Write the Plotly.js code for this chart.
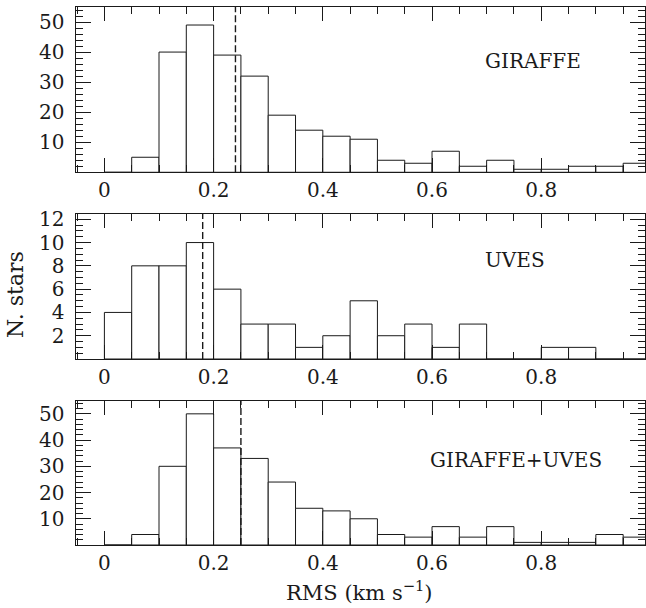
<!DOCTYPE html>
<html>
<head>
<meta charset="utf-8">
<script src="https://cdn.plot.ly/plotly-3.0.1.min.js"></script>
<style>
html,body{margin:0;padding:0;background:#fff;}
#chart{width:646px;height:608px;}
</style>
</head>
<body>
<div id="chart"></div>
<script>
// Bin left edges (RMS, km/s), bin width 0.05
var binLeft = [0, 0.05, 0.10, 0.15, 0.20, 0.25, 0.30, 0.35, 0.40, 0.45,
               0.50, 0.55, 0.60, 0.65, 0.70, 0.75, 0.80, 0.85, 0.90, 0.95];
var binWidth = 0.05;

var giraffeCounts = [0, 5, 40, 49, 39, 32, 19, 14, 12, 11,
                     4, 3, 7, 2, 4, 1, 1, 2, 2, 3];
var uvesCounts    = [4, 8, 8, 10, 6, 3, 3, 1, 2, 5,
                     2, 3, 1, 3, 0, 0, 1, 1, 0, 0];
var combinedCounts = [0, 4, 30, 50, 37, 33, 24, 14, 13, 10,
                      4, 3, 7, 3, 7, 1, 1, 1, 4, 3];

var panelLabels = ["GIRAFFE", "UVES", "GIRAFFE+UVES"];
var meanRMS = [0.24, 0.18, 0.25];

var xTickVals = [0, 0.2, 0.4, 0.6, 0.8];
var yTickVals = [[10, 20, 30, 40, 50], [2, 4, 6, 8, 10, 12], [10, 20, 30, 40, 50]];

var FONT = "DejaVu Serif";
var INK = "#1a1a1a";

var centers = binLeft.map(function (v) { return v + binWidth / 2; });
var series = [giraffeCounts, uvesCounts, combinedCounts];
var sfx = ["", "2", "3"];

var traces = series.map(function (counts, i) {
  return {
    type: "bar", x: centers, y: counts, width: binWidth,
    xaxis: "x" + sfx[i], yaxis: "y" + sfx[i],
    marker: { color: "#ffffff", line: { color: INK, width: 1 } },
    showlegend: false
  };
});

function xAxis(anchor) {
  return {
    anchor: anchor, range: [-0.052, 0.99],
    tickmode: "array", tickvals: xTickVals,
    ticktext: xTickVals.map(function (v) { return v === 0 ? "0" : v.toFixed(1); }),
    ticks: "inside", ticklen: 14, tickwidth: 1, tickcolor: INK,
    minor: { dtick: 0.05, tick0: 0, ticks: "inside", ticklen: 7, tickwidth: 1, tickcolor: INK, showgrid: false },
    mirror: "allticks", showline: true, linecolor: INK, linewidth: 1.2,
    showgrid: false, zeroline: false,
    tickfont: { family: FONT, size: 20, color: INK }
  };
}

function yAxis(anchor, domain, range, vals, minorStep) {
  return {
    anchor: anchor, domain: domain, range: range,
    tickmode: "array", tickvals: vals,
    // trailing no-break space keeps the number clear of the frame as in the reference
    ticktext: vals.map(function (v) { return String(v) + "\u00a0"; }),
    ticks: "inside", ticklen: 15, tickwidth: 1, tickcolor: INK,
    minor: { dtick: minorStep, tick0: 0, ticks: "inside", ticklen: 7, tickwidth: 1, tickcolor: INK, showgrid: false },
    mirror: "allticks", showline: true, linecolor: INK, linewidth: 1.2,
    showgrid: false, zeroline: false,
    tickfont: { family: FONT, size: 20, color: INK }
  };
}

var shapes = meanRMS.map(function (m, i) {
  return {
    type: "line", xref: "x" + sfx[i], yref: "y" + sfx[i] + " domain",
    x0: m, x1: m, y0: 0, y1: 1,
    line: { color: INK, width: 1.4, dash: "7px,3px" }
  };
});

var labelPos = [[0.803, 0.8996], [0.7724, 0.5297], [0.774, 0.158]];
var annotations = panelLabels.map(function (t, i) {
  return {
    text: t, xref: "paper", yref: "paper",
    x: labelPos[i][0], y: labelPos[i][1],
    xanchor: "center", yanchor: "middle", showarrow: false,
    font: { family: FONT, size: 20, color: INK }
  };
});
annotations.push({
  text: "N. stars", xref: "paper", yref: "paper",
  x: -0.1054, y: 0.4647, xanchor: "center", yanchor: "middle",
  textangle: -90, showarrow: false,
  font: { family: FONT, size: 22, color: INK }
});
annotations.push({
  text: "RMS (km s<sup>\u22121</sup>)", xref: "paper", yref: "paper",
  x: 0.4974, y: -0.086, xanchor: "center", yanchor: "middle",
  showarrow: false,
  font: { family: FONT, size: 21, color: INK }
});

var layout = {
  width: 646, height: 608,
  margin: { l: 76, r: 1, t: 7, b: 63 },
  paper_bgcolor: "#ffffff", plot_bgcolor: "#ffffff", bargap: 0,
  xaxis: xAxis("y"), xaxis2: xAxis("y2"), xaxis3: xAxis("y3"),
  yaxis: yAxis("x", [0.6928, 1], [0, 55], yTickVals[0], 2),
  yaxis2: yAxis("x2", [0.3457, 0.6152], [0, 12.45], yTickVals[1], 0.5),
  yaxis3: yAxis("x3", [0, 0.2682], [0, 55], yTickVals[2], 2),
  shapes: shapes, annotations: annotations,
  font: { family: FONT, color: INK }
};

Plotly.newPlot("chart", traces, layout, { displayModeBar: false, staticPlot: true });
</script>
</body>
</html>
